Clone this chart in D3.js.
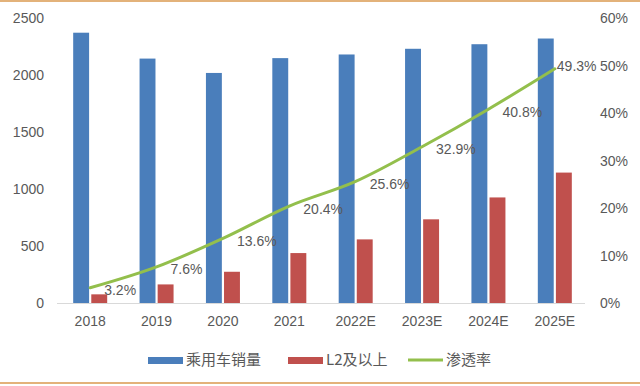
<!DOCTYPE html>
<html>
<head>
<meta charset="utf-8">
<script src="https://cdn.jsdelivr.net/npm/d3@7"></script>
<style>
  body { margin: 0; background: #fff; }
  svg text { font-family: "Liberation Sans", "Noto Sans CJK SC", sans-serif; fill: #595959; }
</style>
</head>
<body>
<div id="chart"></div>
<script>
let years = ["2018", "2019", "2020", "2021", "2022E", "2023E", "2024E", "2025E"];
let sales = [2371, 2144, 2018, 2148, 2180, 2230, 2270, 2320];
let l2 = [76, 163, 274, 438, 558, 734, 926, 1144];
let rate = [0.032, 0.076, 0.136, 0.204, 0.256, 0.329, 0.408, 0.493];
let leftTicks = [0, 500, 1000, 1500, 2000, 2500];
let rightTicks = [0, 0.1, 0.2, 0.3, 0.4, 0.5, 0.6];
let seriesNames = ["乘用车销量", "L2及以上", "渗透率"];

let w = 640;
let h = 386;
let m = {top: 18, right: 52, bottom: 83, left: 57};

let svg = d3.select("#chart")
  .append("svg")
  .attr("width", w)
  .attr("height", h);

// orange frame lines
svg.append("rect").attr("x", 0).attr("y", 0).attr("width", w).attr("height", 2).attr("fill", "#e3b27a");
svg.append("rect").attr("x", 0).attr("y", 382).attr("width", w).attr("height", 2).attr("fill", "#e3b27a");

let x = d3.scaleBand()
  .domain(years)
  .range([m.left, w - m.right]);

let xs = d3.scaleBand()
  .domain([0, 1])
  .range([-17, 17])
  .paddingInner(0.12);

let yL = d3.scaleLinear().domain([0, 2500]).range([h - m.bottom, m.top]);
let yR = d3.scaleLinear().domain([0, 0.6]).range([h - m.bottom, m.top]);

// left axis
let axL = svg.append("g")
  .attr("transform", "translate(" + (m.left - 5) + ",0)")
  .call(d3.axisLeft(yL).tickValues(leftTicks).tickFormat(d3.format("d")).tickSize(0).tickPadding(8));
axL.select(".domain").remove();
axL.selectAll("text").style("font-size", "14px").attr("dy", "0.35em");

// right axis
let axR = svg.append("g")
  .attr("transform", "translate(" + (w - m.right + 4) + ",0)")
  .call(d3.axisRight(yR).tickValues(rightTicks).tickFormat(d3.format(".0%")).tickSize(0).tickPadding(8));
axR.select(".domain").remove();
axR.selectAll("text").style("font-size", "14px").attr("dy", "0.35em");

// bottom axis
let axB = svg.append("g")
  .attr("transform", "translate(0," + (h - m.bottom) + ")")
  .call(d3.axisBottom(x).tickSize(0).tickPadding(13));
axB.select(".domain").attr("stroke", "#d9d9d9").attr("d", "M" + m.left + ",0.5H" + (w - m.right - 3));
axB.selectAll("text").style("font-size", "14px");

let cx = (i) => x(years[i]) + x.bandwidth() / 2;

// blue bars
svg.selectAll(".sales")
  .data(sales)
  .enter()
  .append("rect")
  .attr("class", "sales")
  .attr("x", (d, i) => cx(i) + xs(0))
  .attr("y", (d) => yL(d))
  .attr("width", xs.bandwidth())
  .attr("height", (d) => yL(0) - yL(d))
  .attr("fill", "#4a7ebb");

// red bars
svg.selectAll(".l2")
  .data(l2)
  .enter()
  .append("rect")
  .attr("class", "l2")
  .attr("x", (d, i) => cx(i) + xs(1))
  .attr("y", (d) => yL(d))
  .attr("width", xs.bandwidth())
  .attr("height", (d) => yL(0) - yL(d))
  .attr("fill", "#c0504d");

// penetration line
let line = d3.line()
  .x((d, i) => cx(i))
  .y((d) => yR(d))
  .curve(d3.curveCatmullRom.alpha(0));

svg.append("path")
  .datum(rate)
  .attr("d", line)
  .attr("fill", "none")
  .attr("stroke", "#93bf4c")
  .attr("stroke-width", 3)
  .attr("stroke-linecap", "round");

// data labels
let fmt = d3.format(".1%");
svg.selectAll(".lbl")
  .data(rate)
  .enter()
  .append("text")
  .attr("class", "lbl")
  .attr("x", (d, i) => cx(i) + (i === rate.length - 1 ? 2 : 14))
  .attr("y", (d, i) => yR(d) + (i === rate.length - 1 ? -3 : 2.5))
  .attr("dy", "0.35em")
  .style("font-size", "14px")
  .text((d) => fmt(d));

// legend
let legend = svg.append("g").attr("transform", "translate(0,360)");
let lx = [148, 288, 408];
let lc = ["#4a7ebb", "#c0504d", "#93bf4c"];
seriesNames.forEach((name, i) => {
  if (i < 2) {
    legend.append("rect")
      .attr("x", lx[i]).attr("y", -3).attr("width", 35).attr("height", 7)
      .attr("fill", lc[i]);
  } else {
    legend.append("line")
      .attr("x1", lx[i]).attr("x2", lx[i] + 35).attr("y1", 0).attr("y2", 0)
      .attr("stroke", lc[i]).attr("stroke-width", 3);
  }
  legend.append("text")
    .attr("x", lx[i] + 38)
    .attr("y", 0)
    .attr("dy", "0.35em")
    .style("font-size", "15px")
    .style("font-family", "'Noto Sans CJK SC', sans-serif")
    .text(name);
});
</script>
</body>
</html>
